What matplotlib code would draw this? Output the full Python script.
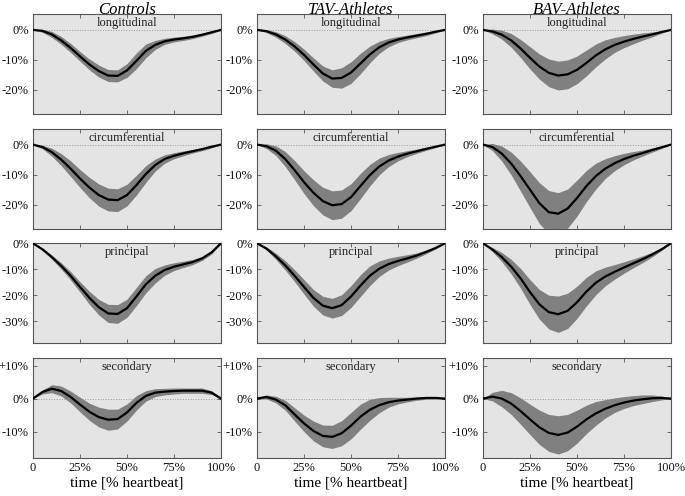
import numpy as np
import matplotlib
matplotlib.use("Agg")
import matplotlib.pyplot as plt

plt.rcParams["font.family"] = ["Liberation Serif", "DejaVu Serif"]

# time axis, % of heartbeat
time_pct = [0, 5, 10, 15, 20, 25, 30, 35, 40, 45, 50,
            55, 60, 65, 70, 75, 80, 85, 90, 95, 100]

groups = ["Controls", "TAV-Athletes", "BAV-Athletes"]
components = ["longitudinal", "circumferential", "principal", "secondary"]

# strain in %, mean and standard deviation per group / component
ctrl_long_mean = [0, -0.3, -1.5, -3.5, -6.0, -8.8, -11.5, -13.7, -15.2, -15.3, -13.5,
                  -10.3, -7.0, -5.0, -3.8, -3.2, -2.8, -2.3, -1.6, -0.8, 0]
ctrl_long_sd = [0, 0.5, 1.0, 1.3, 1.5, 1.6, 1.8, 2.0, 2.0, 2.0, 2.3,
                2.6, 2.3, 1.5, 1.0, 0.8, 0.7, 0.6, 0.5, 0.4, 0]
ctrl_circ_mean = [0, -0.8, -2.5, -5.0, -8.0, -11.3, -14.3, -16.8, -18.3, -18.5, -16.8,
                  -13.5, -9.8, -6.8, -4.8, -3.7, -2.9, -2.2, -1.5, -0.7, 0]
ctrl_circ_sd = [0, 0.6, 1.3, 2.0, 2.6, 3.0, 3.4, 3.7, 3.8, 3.8, 3.6,
                3.3, 2.8, 2.0, 1.4, 1.0, 0.8, 0.6, 0.5, 0.4, 0]
ctrl_prin_mean = [0, -2.3, -5.3, -8.7, -12.5, -16.8, -21.0, -24.6, -27.0, -27.2, -25.0,
                  -20.5, -15.8, -12.5, -10.3, -9.0, -8.1, -7.2, -5.8, -3.5, 0]
ctrl_prin_sd = [0, 0.4, 0.8, 1.2, 1.6, 2.0, 2.5, 3.0, 3.5, 3.6, 3.5,
                3.5, 3.3, 2.8, 2.0, 1.5, 1.2, 1.0, 0.8, 0.6, 0]
ctrl_sec_mean = [0, 2.0, 3.0, 2.3, 0.5, -1.8, -4.0, -5.6, -6.4, -6.2, -4.2,
                 -1.3, 0.8, 1.8, 2.1, 2.3, 2.4, 2.4, 2.4, 1.8, 0]
ctrl_sec_sd = [0, 0.6, 1.2, 1.5, 1.8, 2.2, 2.6, 3.0, 3.2, 3.0, 2.6,
               2.2, 1.6, 1.2, 1.0, 0.9, 0.8, 0.8, 0.8, 0.6, 0]

tav_long_mean = [0, -0.4, -1.5, -3.2, -5.5, -8.3, -11.5, -14.5, -16.2, -16.0, -14.2,
                 -11.2, -8.2, -5.8, -4.2, -3.2, -2.5, -1.9, -1.3, -0.6, 0]
tav_long_sd = [0, 0.5, 0.9, 1.3, 1.6, 1.9, 2.2, 2.5, 2.9, 3.4, 3.6,
               3.4, 2.8, 2.0, 1.4, 1.0, 0.8, 0.7, 0.6, 0.4, 0]
tav_circ_mean = [0, -0.5, -2.0, -4.8, -8.5, -12.5, -16.0, -18.8, -20.2, -19.8, -17.5,
                 -13.8, -10.2, -7.3, -5.3, -4.0, -3.0, -2.2, -1.4, -0.7, 0]
tav_circ_sd = [0, 0.8, 1.6, 2.5, 3.2, 3.8, 4.3, 4.6, 4.8, 4.7, 4.5,
               4.2, 3.6, 2.8, 2.0, 1.4, 1.0, 0.7, 0.5, 0.3, 0]
tav_prin_mean = [0, -2.0, -5.0, -8.5, -12.5, -16.8, -21.0, -24.0, -25.0, -23.8, -20.5,
                 -16.3, -12.5, -9.8, -8.0, -6.8, -5.8, -4.7, -3.3, -1.8, 0]
tav_prin_sd = [0, 0.6, 1.2, 1.8, 2.3, 2.8, 3.2, 3.6, 3.8, 4.0, 4.2,
               4.2, 3.8, 3.0, 2.3, 1.8, 1.4, 1.0, 0.7, 0.4, 0]
tav_sec_mean = [0, 0.5, -0.3, -2.0, -4.8, -7.5, -9.8, -11.3, -11.6, -10.5, -8.2,
                -5.5, -3.4, -2.0, -1.1, -0.6, -0.3, 0.0, 0.2, 0.2, 0]
tav_sec_sd = [0, 0.6, 1.0, 1.5, 2.0, 2.5, 3.0, 3.3, 3.5, 3.8, 4.0,
              3.8, 3.2, 2.3, 1.5, 1.0, 0.7, 0.5, 0.4, 0.3, 0]

bav_long_mean = [0, -0.5, -1.6, -3.5, -6.2, -9.3, -12.2, -14.3, -15.2, -14.8, -13.3,
                 -11.0, -8.5, -6.5, -5.0, -3.9, -3.0, -2.2, -1.5, -0.7, 0]
bav_long_sd = [0, 0.8, 1.5, 2.3, 3.0, 3.7, 4.2, 4.6, 4.8, 4.8, 4.6,
               4.3, 3.8, 3.2, 2.5, 2.0, 1.6, 1.2, 0.8, 0.4, 0]
bav_circ_mean = [0, -0.8, -3.0, -6.3, -10.5, -15.0, -19.5, -22.5, -23.0, -21.3, -17.8,
                 -13.8, -10.5, -8.0, -6.2, -4.8, -3.7, -2.8, -1.8, -0.9, 0]
bav_circ_sd = [0, 1.2, 2.5, 3.8, 5.0, 6.0, 6.8, 7.2, 7.0, 6.5, 6.0,
               5.2, 4.3, 3.3, 2.5, 1.9, 1.4, 1.0, 0.7, 0.4, 0]
bav_prin_mean = [0, -2.4, -5.3, -9.0, -13.5, -18.8, -23.5, -26.5, -27.3, -26.0, -22.7,
                 -18.6, -15.2, -12.8, -11.0, -9.3, -7.7, -6.1, -4.3, -2.3, 0]
bav_prin_sd = [0, 0.8, 1.8, 2.8, 3.8, 4.8, 5.7, 6.5, 7.0, 6.8, 6.2,
               5.5, 4.6, 3.6, 2.8, 2.2, 1.7, 1.3, 0.9, 0.5, 0]
bav_sec_mean = [0, 0.6, 0.0, -1.5, -3.8, -6.3, -8.7, -10.4, -11.0, -10.3, -8.5,
                -6.3, -4.5, -3.1, -2.0, -1.2, -0.6, -0.2, 0.1, 0.2, 0]
bav_sec_sd = [0, 1.3, 2.5, 3.3, 4.0, 4.6, 5.2, 5.6, 5.8, 5.5, 5.0,
              4.3, 3.6, 2.8, 2.2, 1.8, 1.5, 1.3, 1.0, 0.6, 0]

series = [
    [(ctrl_long_mean, ctrl_long_sd), (ctrl_circ_mean, ctrl_circ_sd),
     (ctrl_prin_mean, ctrl_prin_sd), (ctrl_sec_mean, ctrl_sec_sd)],
    [(tav_long_mean, tav_long_sd), (tav_circ_mean, tav_circ_sd),
     (tav_prin_mean, tav_prin_sd), (tav_sec_mean, tav_sec_sd)],
    [(bav_long_mean, bav_long_sd), (bav_circ_mean, bav_circ_sd),
     (bav_prin_mean, bav_prin_sd), (bav_sec_mean, bav_sec_sd)],
]

# per-row axis range and tick labels
row_ylims = [(-28, 5.3), (-28, 5.3), (-38.5, 0), (-18, 12.3)]
row_yticks = [[0, -10, -20], [0, -10, -20], [0, -10, -20, -30], [10, 0, -10]]
xticks = [0, 25, 50, 75, 100]
xticklabels = ["0", "25%", "50%", "75%", "100%"]


def pct_label(v):
    if v > 0:
        return f"+{v}%"
    return f"{v}%"


W, H = 685, 496
fig = plt.figure(figsize=(W / 100, H / 100), dpi=100)

col_left = [33, 257, 483]
col_width = 188
row_top = [14, 128.7, 243.3, 358]
row_height = 100

band_color = "#808080"
bg_color = "#e4e4e4"
spine_color = "#555555"

for c in range(3):
    for r in range(4):
        rect = [col_left[c] / W, 1 - (row_top[r] + row_height) / H,
                col_width / W, row_height / H]
        ax = fig.add_axes(rect)
        ax.set_facecolor(bg_color)
        mean, sd = series[c][r]
        mean = np.array(mean)
        sd = np.array(sd)
        ax.fill_between(time_pct, mean - sd, mean + sd, color=band_color,
                        linewidth=0, zorder=2)
        ax.axhline(0, color="#999999", linestyle=":", linewidth=0.7, zorder=1)
        ax.plot(time_pct, mean, color="black", linewidth=1.6, zorder=3)

        ax.set_xlim(0, 100)
        ax.set_ylim(*row_ylims[r])
        ax.set_xticks(xticks)
        ax.set_yticks(row_yticks[r])
        ax.set_yticklabels([pct_label(v) for v in row_yticks[r]])
        if r == 3:
            ax.set_xticklabels(xticklabels)
            ax.set_xlabel("time [% heartbeat]", fontsize=11, labelpad=2)
        else:
            ax.set_xticklabels([])
        ax.tick_params(direction="in", length=3, width=0.6, colors=spine_color,
                       labelcolor="#111111", labelsize=9,
                       top=True, right=True, pad=3)
        for sp in ax.spines.values():
            sp.set_color(spine_color)
            sp.set_linewidth(0.8)
        ax.text(0.5, 0.97, components[r], transform=ax.transAxes,
                ha="center", va="top", fontsize=9, color="#222222")

    # column titles
    cx = (col_left[c] + col_width / 2) / W
    fig.text(cx, 1 - 1.5 / H, groups[c], fontsize=12, style="italic",
             ha="center", va="top")

fig.savefig("out.png", dpi=100)
